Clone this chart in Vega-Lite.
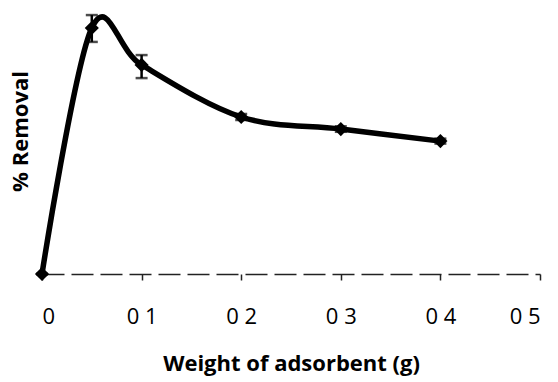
{
  "$schema": "https://vega.github.io/schema/vega-lite/v6.json",
  "width": 498,
  "height": 274,
  "autosize": {"type": "none"},
  "padding": {"left": 42, "top": 0, "right": 18, "bottom": 108},
  "background": "white",
  "config": {"view": {"stroke": null}, "font": "Open Sans"},
  "data": {
    "values": [
      {"w": 0, "r": 0, "lo": 0, "hi": 0},
      {"w": 0.05, "r": 89.8, "lo": 84.7, "hi": 94.5},
      {"w": 0.1, "r": 76.3, "lo": 71.5, "hi": 79.9},
      {"w": 0.2, "r": 57.3, "lo": 56.2, "hi": 58.4},
      {"w": 0.3, "r": 52.9, "lo": 51.9, "hi": 53.9},
      {"w": 0.4, "r": 48.5, "lo": 47.6, "hi": 49.4}
    ]
  },
  "encoding": {
    "x": {
      "field": "w", "type": "quantitative",
      "scale": {"domain": [0, 0.5], "nice": false, "zero": false},
      "axis": {
        "values": [0, 0.1, 0.2, 0.3, 0.4, 0.5],
        "labelExpr": "datum.value == 0 ? '0' : replace(format(datum.value, '.1f'), '.', ' ')",
        "labelFontSize": 22, "labelColor": "black", "labelPadding": 26,
        "grid": false, "domainColor": "#222", "domainWidth": 1.5, "domainDash": [22, 7],
        "tickColor": "#222", "tickSize": 6, "tickWidth": 1.5,
        "title": "Weight of adsorbent (g)", "titleFontSize": 22, "titleFontWeight": "bold",
        "titleColor": "black", "titleY": 79
      }
    },
    "y": {
      "field": "r", "type": "quantitative",
      "scale": {"domain": [0, 100], "nice": false},
      "axis": {
        "labels": false, "ticks": false, "domain": false, "grid": false,
        "title": "% Removal", "titleFontSize": 22, "titleFontWeight": "bold",
        "titleColor": "black",
        "titleX": -22, "titleY": 131, "titleAngle": -90, "titleAlign": "center", "titleBaseline": "middle"
      }
    }
  },
  "layer": [
    {"mark": {"type": "line", "interpolate": "cardinal", "tension": 0, "color": "black", "strokeWidth": 5.5}},
    {"mark": {"type": "rule", "color": "black", "strokeWidth": 2.5},
     "encoding": {"y": {"field": "lo", "type": "quantitative"}, "y2": {"field": "hi"}}},
    {"mark": {"type": "tick", "color": "black", "thickness": 2.5, "size": 12, "orient": "horizontal"},
     "encoding": {"y": {"field": "lo", "type": "quantitative"}}},
    {"mark": {"type": "tick", "color": "black", "thickness": 2.5, "size": 12, "orient": "horizontal"},
     "encoding": {"y": {"field": "hi", "type": "quantitative"}}},
    {"mark": {"type": "point", "shape": "diamond", "filled": true, "color": "black", "size": 200, "opacity": 1}}
  ]
}
